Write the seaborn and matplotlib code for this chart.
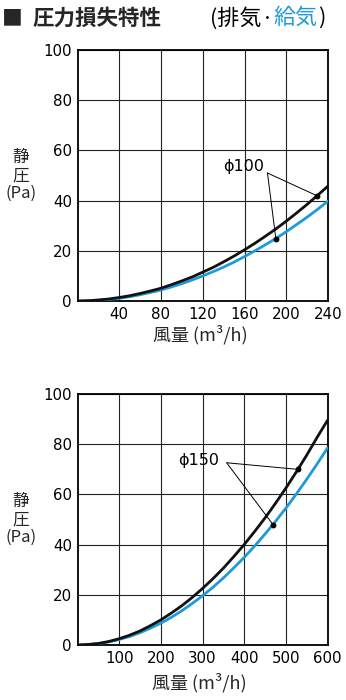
import numpy as np
import pandas as pd
import matplotlib
matplotlib.use("Agg")
import matplotlib.pyplot as plt
import seaborn as sns

# ---- data -------------------------------------------------------------
# φ100 duct: airflow (m³/h) vs static pressure (Pa)
flow_100 = [0, 10, 20, 30, 40, 50, 60, 70, 80, 90, 100, 110, 120, 130, 140,
            150, 160, 170, 180, 190, 200, 210, 220, 230, 240]
exhaust_100 = [0, 0.1, 0.4, 0.8, 1.4, 2.1, 3.0, 4.0, 5.1, 6.5, 8.0, 9.6, 11.5,
               13.4, 15.6, 17.9, 20.4, 23.0, 25.8, 28.7, 31.8, 35.1, 38.5,
               42.1, 45.8]
supply_100 = [0, 0.1, 0.3, 0.6, 1.1, 1.7, 2.5, 3.4, 4.4, 5.6, 6.9, 8.4, 10.0,
              11.7, 13.5, 15.5, 17.7, 20.0, 22.4, 24.9, 27.6, 30.5, 33.4,
              36.5, 39.8]

# φ150 duct
flow_150 = [0, 25, 50, 75, 100, 125, 150, 175, 200, 225, 250, 275, 300, 325,
            350, 375, 400, 425, 450, 475, 500, 525, 550, 575, 600]
exhaust_150 = [0, 0.2, 0.6, 1.4, 2.5, 3.9, 5.6, 7.7, 10.0, 12.7, 15.6, 18.9,
               22.5, 26.4, 30.6, 35.2, 40.0, 45.2, 50.6, 56.4, 62.5, 68.9,
               75.6, 82.7, 89.5]
supply_150 = [0, 0.15, 0.55, 1.2, 2.2, 3.4, 4.9, 6.7, 8.7, 11.0, 13.6, 16.5,
              19.6, 23.0, 26.7, 30.7, 34.9, 39.4, 44.2, 49.2, 54.5, 60.1,
              66.0, 72.1, 78.5]

xticks_100 = [40, 80, 120, 160, 200, 240]
xticks_150 = [100, 200, 300, 400, 500, 600]
yticks = [0, 20, 40, 60, 80, 100]

labels = ["ϕ100", "ϕ150"]

# ---- style ------------------------------------------------------------
sns.set_style("white")
plt.rcParams["font.family"] = ["DejaVu Sans", "Noto Sans CJK JP"]

BLACK = "#111111"
BLUE = "#1e9bd7"
CJK = ["Noto Sans CJK JP", "DejaVu Sans"]

fig = plt.figure(figsize=(3.46, 7.0), dpi=100)


def panel(ax, flow, exhaust, supply, xticks, xmax, label, text_xy, lead_xy,
          dot_x, xlabel_y):
    df = pd.DataFrame({"flow": flow, "exhaust": exhaust, "supply": supply})
    sns.lineplot(data=df, x="flow", y="supply", color=BLUE, lw=2.0, ax=ax,
                 zorder=3)
    sns.lineplot(data=df, x="flow", y="exhaust", color=BLACK, lw=2.0, ax=ax,
                 zorder=4)
    ax.set_xlim(0, xmax)
    ax.set_ylim(0, 100)
    ax.set_xticks(xticks)
    ax.set_yticks(yticks)
    ax.grid(True, color="#222222", lw=0.8)
    for s in ax.spines.values():
        s.set_color("black")
        s.set_linewidth(1.3)
    ax.tick_params(length=0, labelsize=10.8, colors="black")
    ax.tick_params(axis="x", pad=4.5)
    ax.tick_params(axis="y", pad=4)
    ax.set_xlabel("")
    ax.set_ylabel("")

    # leader lines from the label to one point on each curve
    bx, sx = dot_x
    by = float(np.interp(bx, flow, exhaust))
    sy = float(np.interp(sx, flow, supply))
    ax.text(*text_xy, label, ha="center", va="center", fontsize=11.5,
            color="black", zorder=6)
    for px, py in [(bx, by), (sx, sy)]:
        ax.annotate("", xy=(px, py), xytext=lead_xy,
                    arrowprops=dict(arrowstyle="-", color="black", lw=0.7,
                                    shrinkA=0, shrinkB=0), zorder=6)
        ax.plot([px], [py], "o", color="black", ms=3.2, zorder=7)

    # axis titles
    ax.text(-0.226, 0.50, "静\n圧\n(Pa)", transform=ax.transAxes,
            ha="center", va="center", fontsize=12, family=CJK,
            linespacing=1.1)
    ax.text(0.489, xlabel_y, "風量 (m³/h)", transform=ax.transAxes,
            ha="center", va="center", fontsize=13, family=CJK)


ax1 = fig.add_axes([77.5 / 346, (700 - 301) / 700, 250.5 / 346, 251 / 700])
panel(ax1, flow_100, exhaust_100, supply_100, xticks_100, 240, labels[0],
      (159, 53.5), (182, 51), (229.5, 190), -0.135)

ax2 = fig.add_axes([77.5 / 346, (700 - 645) / 700, 250 / 346, 251 / 700])
panel(ax2, flow_150, exhaust_150, supply_150, xticks_150, 600, labels[1],
      (290, 73.7), (358, 72.6), (529, 469), -0.152)

# ---- heading ----------------------------------------------------------
ty = 1 - 18 / 700
fig.text(2 / 346, ty, "■", fontsize=15, family=CJK, va="center",
         fontweight="bold")
fig.text(33 / 346, ty, "圧力損失特性", fontsize=15.5, family=CJK, va="center",
         fontweight="bold")

fig.canvas.draw()
renderer = fig.canvas.get_renderer()
x = 210 / 346
for part, col in [("(排気·", "black"), ("給気", BLUE), (")", "black")]:
    t = fig.text(x, ty, part, fontsize=15.8, family=CJK, va="center",
                 color=col)
    bb = t.get_window_extent(renderer)
    x += bb.width / fig.bbox.width

fig.savefig("out.png", dpi=100)
